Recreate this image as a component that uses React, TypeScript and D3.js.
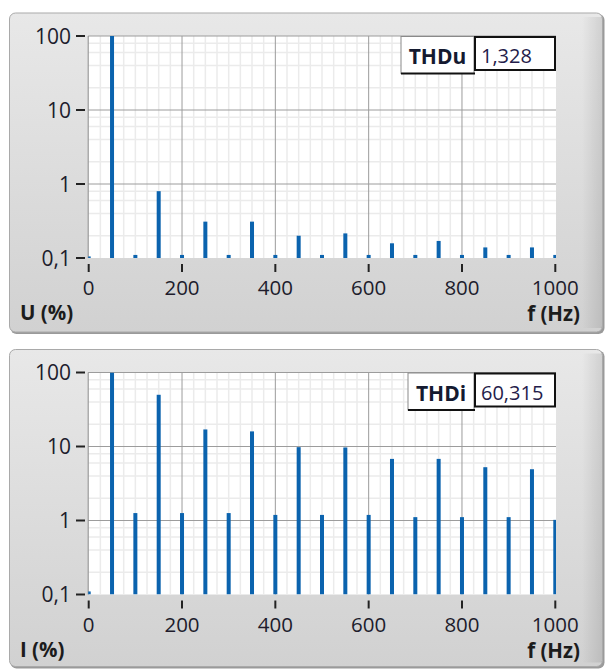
import React from 'react';
import * as d3 from 'd3';

const freqs = [0, 50, 100, 150, 200, 250, 300, 350, 400, 450, 500, 550, 600, 650, 700, 750, 800, 850, 900, 950, 1000];
const uValues = [0.105, 100, 0.11, 0.8, 0.11, 0.31, 0.11, 0.31, 0.11, 0.2, 0.11, 0.215, 0.11, 0.158, 0.11, 0.17, 0.11, 0.139, 0.11, 0.139, 0.11];
const iValues = [0.11, 100, 1.26, 50, 1.26, 17, 1.26, 16, 1.19, 9.8, 1.19, 9.7, 1.19, 6.8, 1.11, 6.8, 1.11, 5.25, 1.11, 4.93, 1.02];
const xTicks = [0, 200, 400, 600, 800, 1000];
const yTicks = [100, 10, 1, 0.1];
const yTickLabels = ['100', '10', '1', '0,1'];

const W = 606;
const H = 671;
const font = '"Open Sans", "Noto Sans", sans-serif';

interface PanelProps {
  top: number;
  height: number;
  values: number[];
  yLabel: string;
  thdLabel: string;
  thdValue: string;
  labelBoxX: number;
  id: string;
}

const Panel = ({ top, height, values, yLabel, thdLabel, thdValue, labelBoxX, id }: PanelProps) => {
  const plotTop = top + 23;
  const plotBottom = top + 245;
  const x = d3.scaleLinear().domain([0, 1000]).range([88.7, 555.3]);
  const y = d3.scaleLog().domain([0.1, 100]).range([plotBottom, plotTop]);
  const left = x(0) - 0.5;
  const right = 556;

  const minorX = d3.range(25, 1000, 25).filter((d) => d % 200 !== 0);
  const minorY: number[] = [];
  [0.1, 1, 10].forEach((dec) => [2, 4, 6, 8].forEach((m) => minorY.push(dec * m)));

  return (
    <g>
      <defs>
        <linearGradient id={`bg-${id}`} x1="0" y1="0" x2="0" y2="1">
          <stop offset="0" stopColor="#e8e8e8" />
          <stop offset="1" stopColor="#d1d1d1" />
        </linearGradient>
        <linearGradient id={`edge-${id}`} x1="0" y1="0" x2="1" y2="0">
          <stop offset="0" stopColor="#000" stopOpacity="0" />
          <stop offset="1" stopColor="#000" stopOpacity="0.1" />
        </linearGradient>
        <clipPath id={`clip-${id}`}>
          <rect x={left} y={plotTop} width={right - left} height={plotBottom - plotTop} />
        </clipPath>
      </defs>
      <rect x={10.5} y={top + 1} width={594} height={height + 1} rx={6} fill="#9a9a9a" />
      <rect x={9.5} y={top} width={593} height={height} rx={6} fill={`url(#bg-${id})`} stroke="#a9a9a9" />
      <rect x={582} y={top + 4} width={20} height={height - 8} fill={`url(#edge-${id})`} />

      <rect x={left} y={plotTop} width={right - left} height={plotBottom - plotTop} fill="#fff" />
      {minorX.map((d) => (
        <line key={`mx${d}`} x1={x(d)} x2={x(d)} y1={plotTop} y2={plotBottom} stroke="#ebebeb" strokeWidth={1.5} />
      ))}
      {minorY.map((d) => (
        <line key={`my${d}`} x1={left} x2={right} y1={y(d)} y2={y(d)} stroke="#ebebeb" strokeWidth={1.5} />
      ))}
      {[200, 400, 600, 800].map((d) => (
        <line key={`gx${d}`} x1={x(d)} x2={x(d)} y1={plotTop} y2={plotBottom} stroke="#9c9c9c" />
      ))}
      {[100, 10, 1].map((d) => (
        <line key={`gy${d}`} x1={left} x2={right} y1={y(d)} y2={y(d)} stroke="#9c9c9c" />
      ))}
      <line x1={left} x2={left} y1={plotTop} y2={plotBottom} stroke="#8a8a8a" />

      <g clipPath={`url(#clip-${id})`}>
        {freqs.map((f, i) => (
          <rect
            key={`b${f}`}
            x={x(f) - 2}
            y={y(values[i])}
            width={4}
            height={plotBottom - y(values[i])}
            fill="#0b63ae"
          />
        ))}
      </g>

      {yTicks.map((t, i) => (
        <g key={`yt${t}`}>
          <line x1={76} x2={85} y1={y(t)} y2={y(t)} stroke="#222" strokeWidth={2} />
          <text x={71} y={y(t) + 7.5} textAnchor="end" fontFamily={font} fontSize={21} fill="#201c2c">
            {yTickLabels[i]}
          </text>
        </g>
      ))}
      {xTicks.map((t) => (
        <g key={`xt${t}`}>
          <line x1={x(t)} x2={x(t)} y1={plotBottom + 6} y2={plotBottom + 14} stroke="#222" strokeWidth={2} />
          <text x={x(t)} y={plotBottom + 37} textAnchor="middle" fontFamily={font} fontSize={20.5} fill="#201c2c">
            {t}
          </text>
        </g>
      ))}
      <text x={20} y={top + 307} fontFamily={font} fontSize={20.5} fontWeight="bold" fill="#1c1c1c">
        {yLabel}
      </text>
      <text x={580} y={top + 308} textAnchor="end" fontFamily={font} fontSize={20.5} fontWeight="bold" fill="#1c1c1c">
        f (Hz)
      </text>

      <rect x={labelBoxX} y={plotTop + 0.5} width={474 - labelBoxX} height={37} fill="#fff" stroke="#8a8a8a" />
      <line x1={labelBoxX} x2={475} y1={plotTop + 37.5} y2={plotTop + 37.5} stroke="#111" strokeWidth={2} />
      <text x={(labelBoxX + 474) / 2} y={plotTop + 28} textAnchor="middle" fontFamily={font} fontSize={21} fontWeight="bold" fill="#141a30">
        {thdLabel}
      </text>
      <rect x={475} y={plotTop + 1} width={80} height={33} fill="#fff" stroke="#111" strokeWidth={2} />
      <text x={481} y={plotTop + 27} fontFamily={font} fontSize={20} fill="#241c4a">
        {thdValue}
      </text>
    </g>
  );
};

export default function App() {
  return (
    <div style={{ position: 'absolute', left: 0, top: 0 }}>
      <svg width={W} height={H} style={{ display: 'block' }}>
        <rect width={W} height={H} fill="#fff" />
        <Panel top={13} height={319} values={uValues} yLabel="U (%)" thdLabel="THDu" thdValue="1,328" labelBoxX={401} id="u" />
        <Panel top={349.5} height={317} values={iValues} yLabel="I (%)" thdLabel="THDi" thdValue="60,315" labelBoxX={408} id="i" />
      </svg>
    </div>
  );
}
